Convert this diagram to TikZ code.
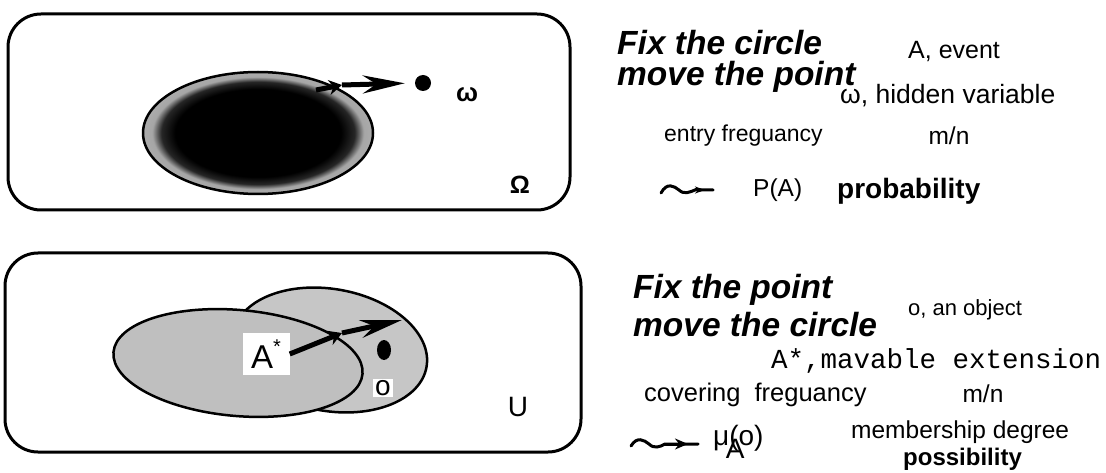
\documentclass[tikz,border=0pt]{standalone}
\usepackage{fontspec}
\setmainfont{Liberation Sans}
\setmonofont{Liberation Mono}
\usetikzlibrary{shapes.geometric,arrows.meta}
\pgfdeclareradialshading{blackcore}{\pgfpoint{0bp}{0bp}}{color(0bp)=(black); color(18bp)=(black); color(21bp)=(black!85); color(23bp)=(gray!70); color(25bp)=(gray!65); color(50bp)=(gray!65)}
\begin{document}
\begin{tikzpicture}[x=1pt,y=-1pt,
  frame/.style={draw, line width=3pt, rounded corners=33pt, inner sep=0},
  blob/.style={ellipse, draw, line width=2.5pt, inner sep=0},
  lbl/.style={inner sep=0, anchor=west, font=\fontsize{24.5}{28}\selectfont},
  head/.style={inner sep=0, anchor=west, align=left},
  bold/.style={inner sep=0, anchor=west, font=\fontsize{24}{28}\selectfont\bfseries},
  thick arrow/.style={line width=5pt},
  smallhead/.style={-{Stealth[length=13pt,width=15pt]}},
  bighead/.style={-{Stealth[length=42pt,width=18pt]}},
  wave/.style={line width=3pt, line cap=round}
]
\useasboundingbox (0,0) rectangle (1106,473);

% ---------- top panel ----------
\node[frame, minimum width=562, minimum height=196] (omegabox) at (289,112) {};
\node[blob, shade, shading=blackcore, minimum width=230, minimum height=122] (A) at (258,133) {};
\node[circle, fill=black, minimum size=16, inner sep=0] (w) at (423,83) {};
\node[inner sep=0, font=\fontsize{26}{26}\selectfont\bfseries] (wl) at (467,95) {ω};
\node[inner sep=0, font=\fontsize{25}{25}\selectfont\bfseries] (Om) at (520,185) {Ω};
\coordinate (a0) at (316,90);
\coordinate (a1) at (342,85);
\draw[thick arrow, smallhead] (a0) -- (a1);
\draw[thick arrow, bighead, shorten >=10pt] (a1) -- (w.west);

% ---------- bottom panel ----------
\node[frame, minimum width=576, minimum height=199] (ubox) at (293,352.5) {};
\node[blob, fill=gray!45, rotate=-10, minimum width=196, minimum height=122] (B2) at (330,350) {};
\node[blob, fill=gray!50, rotate=-5, minimum width=250, minimum height=106] (B1) at (238,363) {};
\node[fill=white, inner sep=0, minimum width=47, minimum height=42, font=\fontsize{33}{33}\selectfont] (As) at (266,354) {A\raisebox{0.45em}{\fontsize{20}{20}\selectfont *}};
\node[ellipse, fill=black, minimum width=14, minimum height=20, inner sep=0] (o) at (384,350) {};
\node[fill=white, inner sep=1pt, minimum width=20, font=\fontsize{28}{28}\selectfont] (ol) at (383,388) {o};
\node[inner sep=0, font=\fontsize{28}{28}\selectfont] (Ul) at (518,407) {U};
\coordinate (b1) at (342,333);
\coordinate (b2) at (402,320);
\draw[thick arrow, smallhead] (As.east) -- (b1);
\draw[thick arrow, bighead] (b1) -- (b2);

% ---------- top texts ----------
\node[head, font=\fontsize{33.5}{31}\selectfont\bfseries\itshape] (t1) at (617,61) {Fix the circle\\move the point};
\node[lbl, font=\fontsize{25}{28}\selectfont] (t3) at (908,52) {A, event};
\node[lbl, font=\fontsize{26.5}{28}\selectfont] (t4) at (840,96) {ω, hidden variable};
\node[lbl, font=\fontsize{23}{28}\selectfont] (t5) at (664,136) {entry freguancy};
\node[lbl, anchor=center] (t6) at (949,136) {m/n};
\coordinate (w0) at (661,193);
\coordinate (w1) at (713,190);
\coordinate (w2) at (705,190);
\draw[wave] (w0) .. controls (667,182) and (674,186) .. (679,190) .. controls (684,195) and (690,192) .. (695,190) -- (w1);
\draw[line width=3pt, -{Stealth[length=10pt,width=7pt]}] (695,190) -- (w2);
\node[lbl] (t7) at (753,190) {P(A)};
\node[bold, font=\fontsize{28}{30}\selectfont\bfseries] (t8) at (837,191) {probability};

% ---------- bottom texts ----------
\node[head, font=\fontsize{33.5}{38}\selectfont\bfseries\itshape] (s1) at (633,306) {Fix the point\\move the circle};
\node[lbl, font=\fontsize{22}{26}\selectfont] (s3) at (908,310) {o, an object};
\node[inner sep=0, anchor=west, font=\fontsize{27.5}{28}\selectfont\ttfamily] (s4) at (771,361) {A*,mavable extension};
\node[lbl, font=\fontsize{25.5}{28}\selectfont] (s5) at (644,395) {covering\hspace{0.55em}freguancy};
\node[lbl, anchor=center] (s6) at (983,394) {m/n};
\coordinate (v0) at (631,446);
\coordinate (v1) at (698,444);
\coordinate (v2) at (688,444);
\draw[wave] (v0) .. controls (637,436) and (644,440) .. (649,444) .. controls (654,449) and (660,447) .. (665,444) -- (v1);
\draw[line width=3pt, -{Stealth[length=13pt,width=11pt]}] (665,444) -- (v2);
\node[inner sep=0, anchor=west, font=\fontsize{28}{28}\selectfont] (s7) at (713,442) {μ\kern-0.12em\raisebox{-0.45em}{A}\kern-0.55em(o)};
\node[lbl] (s8) at (851,432) {membership degree};
\node[bold] (s9) at (903,459) {possibility};
\end{tikzpicture}
\end{document}
